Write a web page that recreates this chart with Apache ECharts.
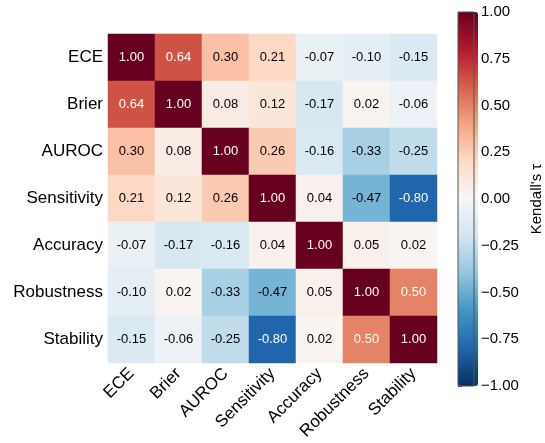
<!DOCTYPE html>
<html lang="en">
<head>
    <meta charset="UTF-8">
    <title>Kendall's tau heatmap</title>
    <script src="https://cdn.jsdelivr.net/npm/echarts@6/dist/echarts.min.js"></script>
    <style>
        html, body { margin: 0; padding: 0; background: #fff; }
        #main { width: 545px; height: 443px; }
    </style>
</head>
<body>
<div id="main"></div>
<script type="text/javascript">
    // metric names (rows top -> bottom, columns left -> right)
    var metrics = ['ECE', 'Brier', 'AUROC', 'Sensitivity', 'Accuracy', 'Robustness', 'Stability'];

    // one row per metric
    var rowECE         = [1.00, 0.64, 0.30, 0.21, -0.07, -0.10, -0.15];
    var rowBrier       = [0.64, 1.00, 0.08, 0.12, -0.17, 0.02, -0.06];
    var rowAUROC       = [0.30, 0.08, 1.00, 0.26, -0.16, -0.33, -0.25];
    var rowSensitivity = [0.21, 0.12, 0.26, 1.00, 0.04, -0.47, -0.80];
    var rowAccuracy    = [-0.07, -0.17, -0.16, 0.04, 1.00, 0.05, 0.02];
    var rowRobustness  = [-0.10, 0.02, -0.33, -0.47, 0.05, 1.00, 0.50];
    var rowStability   = [-0.15, -0.06, -0.25, -0.80, 0.02, 0.50, 1.00];
    var rows = [rowECE, rowBrier, rowAUROC, rowSensitivity, rowAccuracy, rowRobustness, rowStability];

    // colorbar ticks
    var cbarMin = -1, cbarMax = 1, cbarStep = 0.25;

    // RdBu_r
    var rdbu = ['#053061', '#2166ac', '#4393c3', '#92c5de', '#d1e5f0', '#f7f7f7',
                '#fddbc7', '#f4a582', '#d6604d', '#b2182b', '#67001f'];

    var font = "'Liberation Sans', Arial, sans-serif";

    var cells = [];
    rows.forEach(function (r, i) {
        r.forEach(function (v, j) {
            cells.push({
                value: [j, i, v],
                label: { color: Math.abs(v) >= 0.5 ? '#ffffff' : '#000000' }
            });
        });
    });

    var myChart = echarts.init(document.getElementById('main'));
    var option = {
        backgroundColor: '#fff',
        animation: false,
        textStyle: { fontFamily: font },
        grid: [
            { left: 108, top: 34, width: 329, height: 329 },
            { left: 458, top: 12, width: 20, height: 374, show: true,
              borderColor: '#555', borderWidth: 1, backgroundColor: 'transparent', z: 10 }
        ],
        xAxis: [
            {
                type: 'category', data: metrics, gridIndex: 0, position: 'bottom',
                axisLine: { show: false }, axisTick: { show: false }, splitLine: { show: false },
                axisLabel: { rotate: 45, fontSize: 17, color: '#000', margin: 8, fontFamily: font }
            },
            { type: 'value', gridIndex: 1, show: false, min: 0, max: 1 }
        ],
        yAxis: [
            {
                type: 'category', data: metrics, gridIndex: 0, inverse: true,
                axisLine: { show: false }, axisTick: { show: false }, splitLine: { show: false },
                axisLabel: { fontSize: 17, color: '#000', margin: 5, fontFamily: font }
            },
            {
                type: 'value', gridIndex: 1, position: 'right',
                min: cbarMin, max: cbarMax, interval: cbarStep,
                name: "Kendall's \u03c4", nameLocation: 'middle', nameRotate: 90, nameGap: 55,
                nameTextStyle: { fontSize: 15, color: '#000', fontFamily: font },
                axisLine: { show: true, lineStyle: { color: '#555', width: 1 } },
                axisTick: { show: true, length: 4, lineStyle: { color: '#555' } },
                splitLine: { show: false },
                axisLabel: {
                    fontSize: 15, color: '#000', margin: 7, fontFamily: font,
                    formatter: function (v) { return v.toFixed(2).replace('-', '\u2212'); }
                }
            }
        ],
        visualMap: {
            type: 'continuous', min: cbarMin, max: cbarMax, seriesIndex: 0,
            calculable: false, hoverLink: false, orient: 'vertical',
            left: 458, top: 12, itemWidth: 20, itemHeight: 374, padding: 0,
            text: null, showLabel: false,
            inRange: { color: rdbu }
        },
        series: [{
            type: 'heatmap', xAxisIndex: 0, yAxisIndex: 0, data: cells,
            label: {
                show: true, fontSize: 13, fontFamily: font,
                formatter: function (p) { return p.value[2].toFixed(2); }
            },
            itemStyle: { borderWidth: 0 },
            emphasis: { disabled: true }
        }]
    };
    myChart.setOption(option);
</script>
</body>
</html>
